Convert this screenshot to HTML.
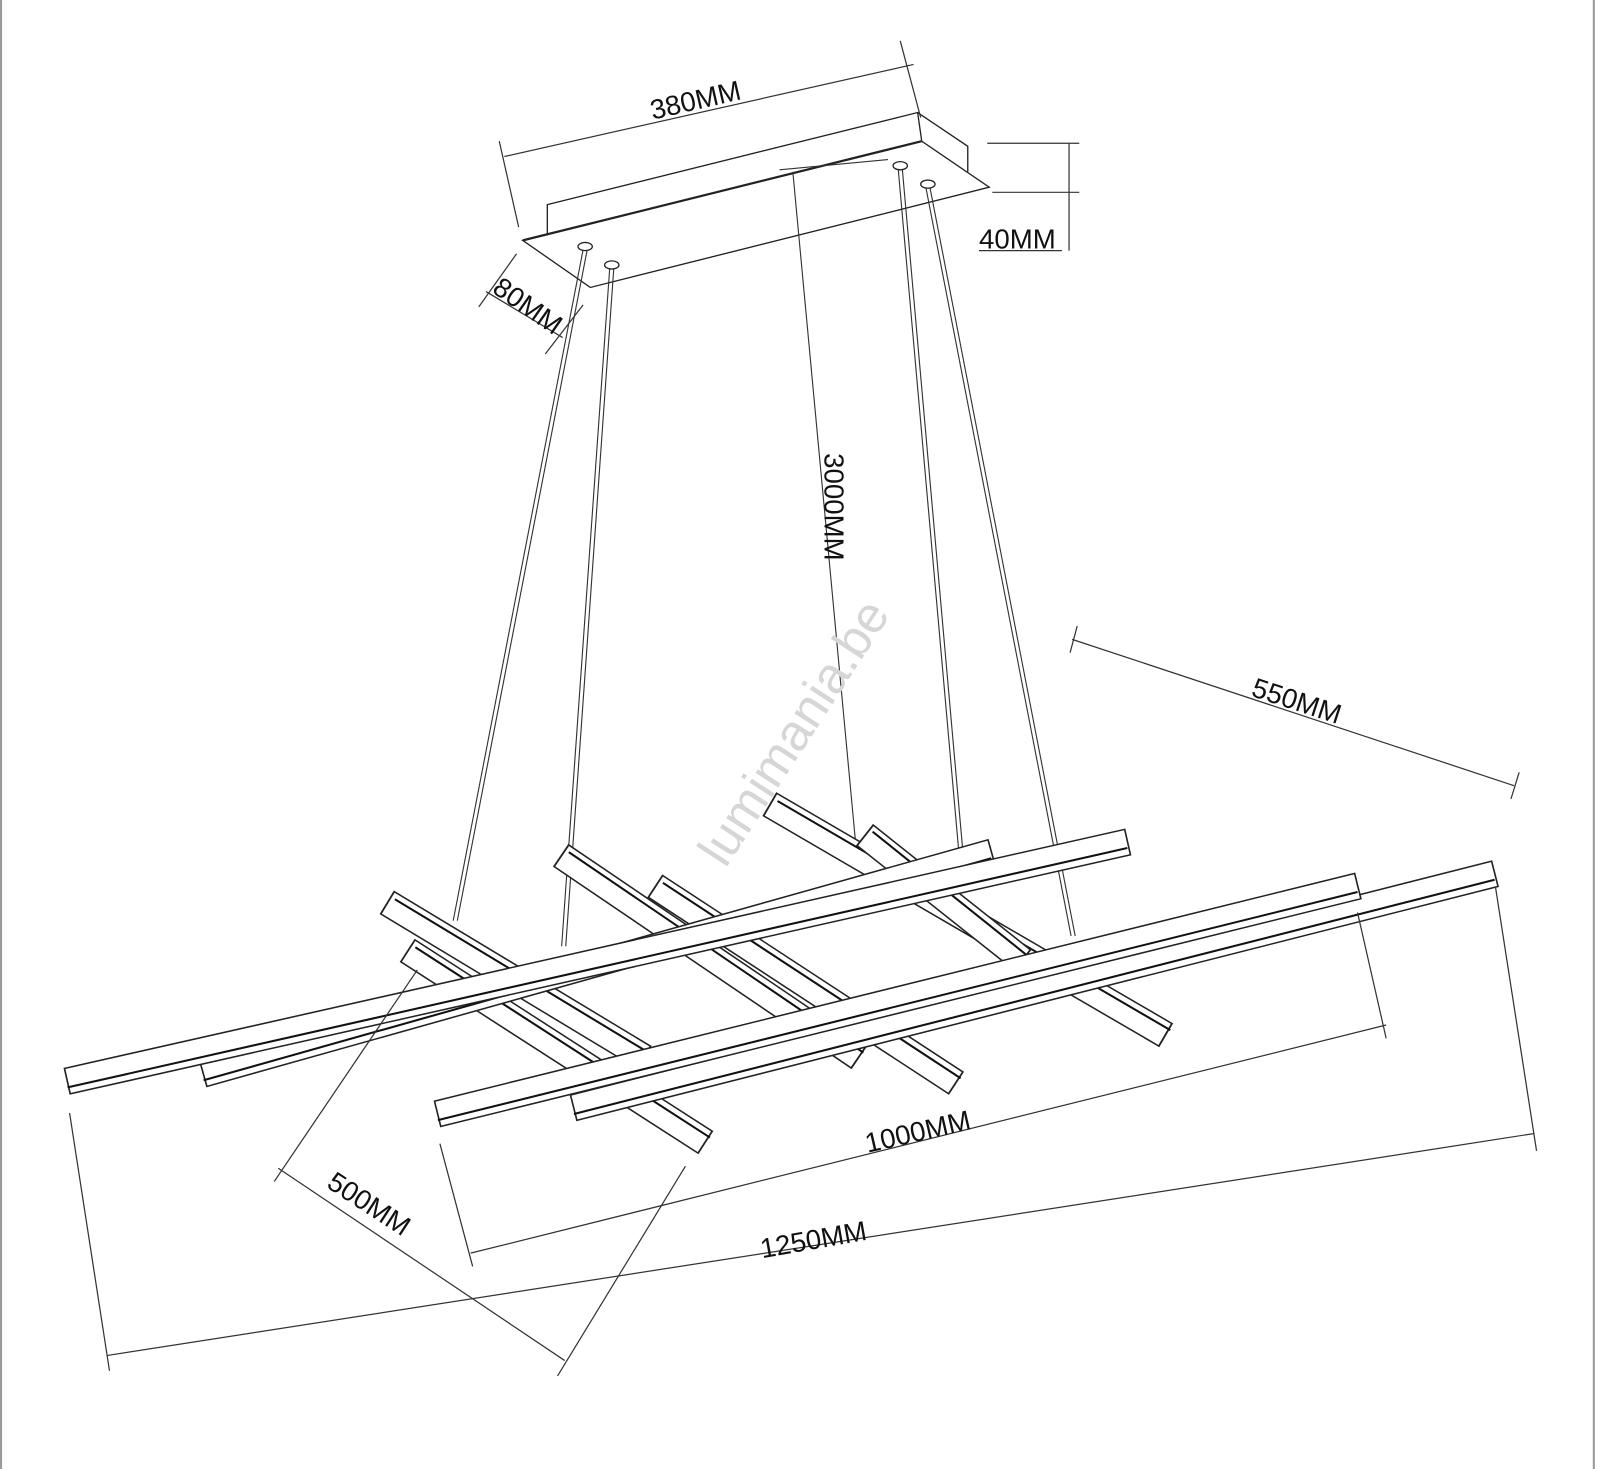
<!DOCTYPE html>
<html><head><meta charset="utf-8"><style>
html,body{margin:0;padding:0;background:#fff}
svg{display:block}
text{font-family:"Liberation Sans",sans-serif;fill:#111}
.o{stroke:#222;stroke-width:27}
.i{stroke:#fff;stroke-width:24}
.e{stroke:#111;stroke-width:2}
</style></head><body>
<svg width="1600" height="1469" viewBox="0 0 1564 1436" xmlns="http://www.w3.org/2000/svg">
<rect x="0" y="0" width="1564" height="1436" fill="#fff"/>
<line x1="1" y1="0" x2="1" y2="1436" stroke="#999" stroke-width="2"/>
<line x1="1558" y1="0" x2="1558" y2="1436" stroke="#999" stroke-width="2"/>

<g fill="none" stroke="#222" stroke-width="1.3">
<polygon points="511,235 901,138 967,183 577,281" fill="#fff"/>
<line x1="511" y1="235" x2="901" y2="138" stroke-width="2.2"/>
<polyline points="535,230 535,200 897,110 901,138"/>
<polyline points="897,110 946,143 946,168"/>
<ellipse cx="572" cy="241" rx="7" ry="4"/><ellipse cx="598" cy="259" rx="7" ry="4"/>
<ellipse cx="880" cy="162" rx="7" ry="4"/><ellipse cx="907" cy="180" rx="7" ry="4"/>
</g>

<g stroke="#333" stroke-width="1.1" fill="none">
<line x1="570" y1="244" x2="443" y2="900"/><line x1="574" y1="244" x2="447" y2="900"/>
<line x1="596" y1="262" x2="549" y2="925"/><line x1="600" y1="262" x2="553" y2="925"/>
<line x1="878" y1="165" x2="937" y2="830"/><line x1="882" y1="165" x2="941" y2="830"/>
<line x1="905" y1="183" x2="1047" y2="915"/><line x1="909" y1="183" x2="1051" y2="915"/>
<line x1="775" y1="168" x2="836" y2="820"/>
<line x1="762" y1="166" x2="868" y2="156"/>
</g>

<text x="0" y="0" transform="translate(790,725) rotate(-57)" font-size="50" text-anchor="middle" style="fill:#d6d6d6">lumimania.be</text>

<g stroke-linecap="butt">
<g><line x1="378" y1="882" x2="630" y2="1034" class="o"/><line x1="378" y1="882" x2="630" y2="1034" class="i" pathLength="100" stroke-dasharray="0 0.6 98.8 0.6"/><line x1="386" y1="879" x2="634" y2="1029" class="e"/></g>
<g><line x1="398" y1="929" x2="690" y2="1117" class="o"/><line x1="398" y1="929" x2="690" y2="1117" class="i" pathLength="100" stroke-dasharray="0 0.5 99 0.5"/><line x1="406" y1="926" x2="694" y2="1112" class="e"/></g>
<g><line x1="548" y1="836" x2="840" y2="1034" class="o"/><line x1="548" y1="836" x2="840" y2="1034" class="i" pathLength="100" stroke-dasharray="0 0.5 99 0.5"/><line x1="556" y1="833" x2="844" y2="1029" class="e"/></g>
<g><line x1="640" y1="866" x2="935" y2="1059" class="o"/><line x1="640" y1="866" x2="935" y2="1059" class="i" pathLength="100" stroke-dasharray="0 0.5 99 0.5"/><line x1="648" y1="863" x2="939" y2="1054" class="e"/></g>
<g><line x1="752" y1="786" x2="1140" y2="1012" class="o"/><line x1="752" y1="786" x2="1140" y2="1012" class="i" pathLength="100" stroke-dasharray="0 0.4 99.2 0.4"/><line x1="760" y1="783" x2="1144" y2="1007" class="e"/></g>
<g><line x1="845" y1="816" x2="1000" y2="939" class="o"/><line x1="845" y1="816" x2="1000" y2="939" class="i" pathLength="100" stroke-dasharray="0 0.9 98.2 0.9"/><line x1="853" y1="813" x2="1004" y2="934" class="e"/></g>
</g>

<g stroke-linecap="butt">
<g><line x1="198" y1="1050" x2="970" y2="833" class="o"/><line x1="198" y1="1050" x2="970" y2="833" class="i" pathLength="100" stroke-dasharray="0 0.2 99.6 0.2"/><line x1="199" y1="1056" x2="969" y2="839" class="e"/></g>
<g><line x1="65" y1="1057" x2="1103" y2="823" class="o"/><line x1="65" y1="1057" x2="1103" y2="823" class="i" pathLength="100" stroke-dasharray="0 0.15 99.7 0.15"/><line x1="66" y1="1063" x2="1102" y2="829" class="e"/></g>
<g><line x1="560" y1="1083" x2="1462" y2="854" class="o"/><line x1="560" y1="1083" x2="1462" y2="854" class="i" pathLength="100" stroke-dasharray="0 0.17 99.66 0.17"/><line x1="561" y1="1089" x2="1461" y2="860" class="e"/></g>
<g><line x1="427" y1="1089" x2="1328" y2="866" class="o"/><line x1="427" y1="1089" x2="1328" y2="866" class="i" pathLength="100" stroke-dasharray="0 0.17 99.66 0.17"/><line x1="428" y1="1095" x2="1327" y2="872" class="e"/></g>
</g>

<g stroke="#333" stroke-width="1.2" fill="none">
<line x1="488" y1="138" x2="507" y2="222"/><line x1="880" y1="40" x2="900" y2="115"/>
<line x1="493" y1="153" x2="893" y2="63"/>
<line x1="965" y1="140" x2="1055" y2="140"/><line x1="970" y1="188" x2="1055" y2="188"/>
<line x1="1045" y1="140" x2="1045" y2="245"/><line x1="957" y1="245" x2="1038" y2="245"/>
<line x1="505" y1="248" x2="468" y2="300"/><line x1="570" y1="298" x2="533" y2="346"/>
<line x1="475" y1="285" x2="550" y2="330"/>
<line x1="1048" y1="625" x2="1480" y2="768"/><line x1="1053" y1="612" x2="1046" y2="638"/><line x1="1485" y1="755" x2="1477" y2="781"/>
<line x1="430" y1="1118" x2="462" y2="1238"/><line x1="1327" y1="892" x2="1355" y2="1015"/>
<line x1="460" y1="1225" x2="1355" y2="1002"/>
<line x1="68" y1="1088" x2="107" y2="1340"/><line x1="1462" y1="868" x2="1502" y2="1125"/>
<line x1="105" y1="1325" x2="1500" y2="1108"/>
<line x1="408" y1="948" x2="268" y2="1155"/><line x1="670" y1="1140" x2="545" y2="1345"/>
<line x1="272" y1="1142" x2="552" y2="1330"/>
</g>

<g font-size="27">
<text transform="translate(638,117) rotate(-13)">380MM</text>
<text x="957" y="243">40MM</text>
<text transform="translate(480,285) rotate(35)">80MM</text>
<text transform="translate(806,443) rotate(90)">3000MM</text>
<text transform="translate(1222,680) rotate(18)">550MM</text>
<text transform="translate(848,1127) rotate(-13)">1000MM</text>
<text transform="translate(745,1230) rotate(-10)">1250MM</text>
<text transform="translate(318,1160) rotate(33)">500MM</text>
</g>
</svg>
</body></html>
